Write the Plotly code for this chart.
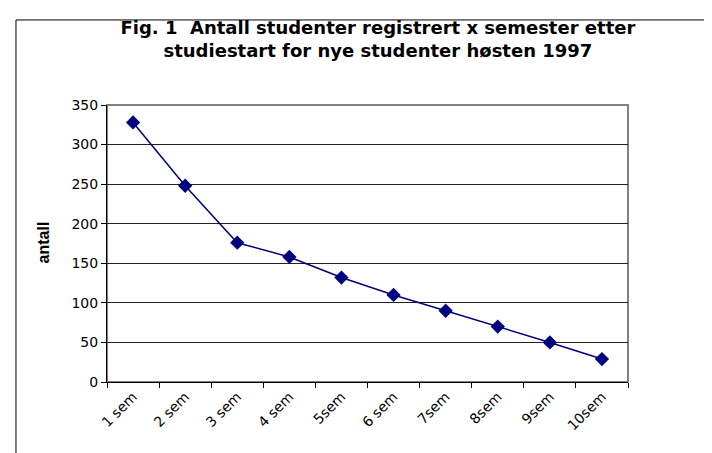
import plotly.graph_objects as go

# semester labels and number of students registered
semestre = ["1 sem", "2 sem", "3 sem", "4 sem", "5sem", "6 sem", "7sem", "8sem", "9sem", "10sem"]
antall = [328, 248, 176, 158, 132, 110, 90, 70, 50, 29]
y_ticks = [0, 50, 100, 150, 200, 250, 300, 350]

# the original text looks horizontally stretched, DejaVu is the wider face
font_name = "DejaVu Sans, Liberation Sans, Arial, sans-serif"

fig = go.Figure()
fig.add_trace(go.Scatter(
    x=semestre, y=antall, mode="lines+markers",
    line=dict(color="#000080", width=1.5),
    marker=dict(symbol="diamond", size=11, color="#000080"),
    showlegend=False, cliponaxis=False,
))

fig.update_layout(
    width=712, height=453,
    margin=dict(l=99, r=92, t=97, b=79),
    paper_bgcolor="white", plot_bgcolor="white",
    font=dict(family=font_name, size=14, color="black"),
    title=dict(
        text="<b>Fig. 1  Antall studenter registrert x semester etter<br>studiestart for nye studenter høsten 1997</b>",
        x=0.52, xref="paper", xanchor="center",
        y=1 - 26 / 453, yanchor="top",
        font=dict(family=font_name, size=18, color="black"),
    ),
    xaxis=dict(
        type="category", tickangle=-45, tickson="boundaries",
        ticks="outside", ticklen=5, tickcolor="black",
        showline=True, linecolor="black", linewidth=1,
        showgrid=False, range=[-0.5, 9.5],
    ),
    yaxis=dict(
        range=[0, 350], tickvals=y_ticks,
        ticks="outside", ticklen=5, tickcolor="black",
        showline=True, linecolor="black", linewidth=1,
        showgrid=True, gridcolor="#222222", gridwidth=1,
        zeroline=False,
    ),
    annotations=[dict(
        text="<b>antall</b>", textangle=-90,
        x=-0.142, y=0.502, xref="paper", yref="paper",
        showarrow=False, font=dict(family="Liberation Sans, Arial, sans-serif", size=16),
    )],
    shapes=[
        # gray border on the top and right of the plot area
        dict(type="rect", xref="x domain", yref="y domain", x0=0, x1=1, y0=0, y1=1,
             line=dict(color="#808080", width=2), layer="below"),
        # outer chart frame
        dict(type="rect", xref="paper", yref="paper", x0=-0.1747, x1=1.2, y0=-0.35, y1=1.307,
             line=dict(color="black", width=1)),
    ],
)

fig.write_html("out.html")
